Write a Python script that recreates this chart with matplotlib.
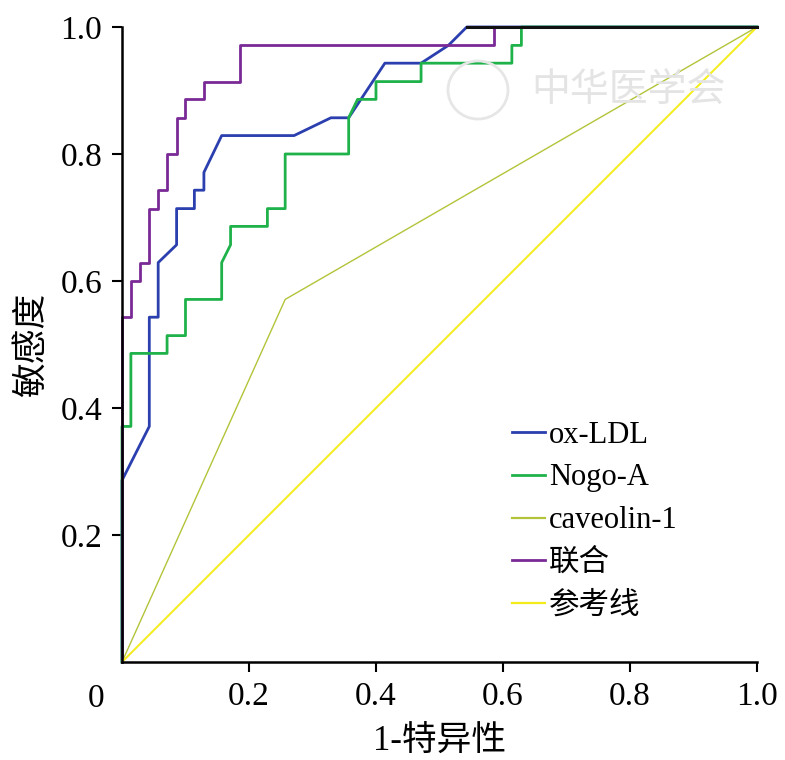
import matplotlib
matplotlib.use('Agg')
import matplotlib.pyplot as plt
from matplotlib.patches import Circle

plt.rcParams['font.family'] = ['Liberation Serif', 'Noto Sans CJK SC']

# ROC curves (1-specificity, sensitivity)
oxldl_fpr = [0, 0, 0.043, 0.043, 0.057, 0.057, 0.086, 0.086, 0.114, 0.114, 0.129, 0.129,
             0.157, 0.271, 0.329, 0.357, 0.414, 0.471, 0.514, 0.543, 1.0]
oxldl_tpr = [0, 0.286, 0.371, 0.543, 0.543, 0.629, 0.657, 0.714, 0.714, 0.743, 0.743, 0.771,
             0.829, 0.829, 0.857, 0.857, 0.943, 0.943, 0.971, 1.0, 1.0]

nogo_fpr = [0, 0, 0.014, 0.014, 0.071, 0.071, 0.1, 0.1, 0.157, 0.157, 0.171, 0.171, 0.229,
            0.229, 0.257, 0.257, 0.357, 0.357, 0.371, 0.4, 0.4, 0.471, 0.471, 0.614, 0.614,
            0.629, 0.629, 1.0]
nogo_tpr = [0, 0.371, 0.371, 0.486, 0.486, 0.514, 0.514, 0.571, 0.571, 0.629, 0.657, 0.686,
            0.686, 0.714, 0.714, 0.8, 0.8, 0.857, 0.886, 0.886, 0.914, 0.914, 0.943, 0.943,
            0.971, 0.971, 1.0, 1.0]

cav_fpr = [0, 0.257, 1.0]
cav_tpr = [0, 0.571, 1.0]

combo_fpr = [0, 0, 0.014, 0.014, 0.029, 0.029, 0.043, 0.043, 0.057, 0.057, 0.071, 0.071,
             0.086, 0.086, 0.1, 0.1, 0.129, 0.129, 0.186, 0.186, 0.586, 0.586, 1.0]
combo_tpr = [0, 0.543, 0.543, 0.6, 0.6, 0.629, 0.629, 0.714, 0.714, 0.743, 0.743, 0.8,
             0.8, 0.857, 0.857, 0.886, 0.886, 0.914, 0.914, 0.971, 0.971, 1.0, 1.0]

ref_line = [0, 1]

ticks = [0.2, 0.4, 0.6, 0.8, 1.0]
tick_labels = ['0.2', '0.4', '0.6', '0.8', '1.0']

fig = plt.figure(figsize=(7.85, 7.6), dpi=100)
ax = fig.add_axes([0.1554, 0.1289, 0.8089, 0.8356])

ax.plot(oxldl_fpr, oxldl_tpr, color='#2b3fae', lw=2.0, label='ox-LDL', clip_on=False)
ax.plot(nogo_fpr, nogo_tpr, color='#1fb24a', lw=2.0, label='Nogo-A', clip_on=False)
ax.plot(cav_fpr, cav_tpr, color='#b3c43a', lw=1.0, label='caveolin-1', clip_on=False)
ax.plot(combo_fpr, combo_tpr, color='#7a2a96', lw=2.0, label='联合', clip_on=False)
ax.plot(ref_line, ref_line, color='#f4ec1a', lw=1.4, label='参考线', clip_on=False)

# where the curves overlap at sensitivity 1.0 the print shows a black line
first_full = min(f for fpr, tpr in [(oxldl_fpr, oxldl_tpr), (nogo_fpr, nogo_tpr),
                                    (combo_fpr, combo_tpr)]
                 for f, t in zip(fpr, tpr) if t >= 1.0)
ax.plot([first_full, 1.0], [1.0, 1.0], color='#111111', lw=2.2, clip_on=False, zorder=3)

ax.set_xlim(0, 1)
ax.set_ylim(0, 1)
ax.set_xticks(ticks)
ax.set_xticklabels(tick_labels)
ax.set_yticks(ticks)
ax.set_yticklabels(tick_labels)
ax.tick_params(direction='out', length=7.2, width=1.5, labelsize=24, pad=7)
for side in ['top', 'right']:
    ax.spines[side].set_visible(False)
for side in ['left', 'bottom']:
    ax.spines[side].set_linewidth(1.8)

ax.annotate('0', xy=(0, 0), xycoords='axes fraction', xytext=(-19, -15.5),
            textcoords='offset points', ha='center', va='top', fontsize=24)

ax.set_xlabel('1-特异性', fontsize=25, labelpad=10)
ax.set_ylabel('敏感度', fontsize=25, labelpad=8)

leg = ax.legend(loc='upper left', bbox_to_anchor=(0.614, 0.38), frameon=False,
                fontsize=22, handlelength=1.1, handletextpad=0.12, labelspacing=0.45,
                borderaxespad=0, borderpad=0)
for line in leg.get_lines():
    line.set_linewidth(max(line.get_linewidth(), 1.6))

# faint watermark of the journal
fig.patches.append(Circle((478 / 785, 1 - 90 / 760), 30 / 785, transform=fig.transFigure,
                          fill=False, ec='#e6e6e6', lw=2))
fig.text(628 / 785, 1 - 92 / 760, '中华医学会', fontsize=28, color='#e4e4e4',
         ha='center', va='center', style='italic')

fig.savefig('out.png', dpi=100)
